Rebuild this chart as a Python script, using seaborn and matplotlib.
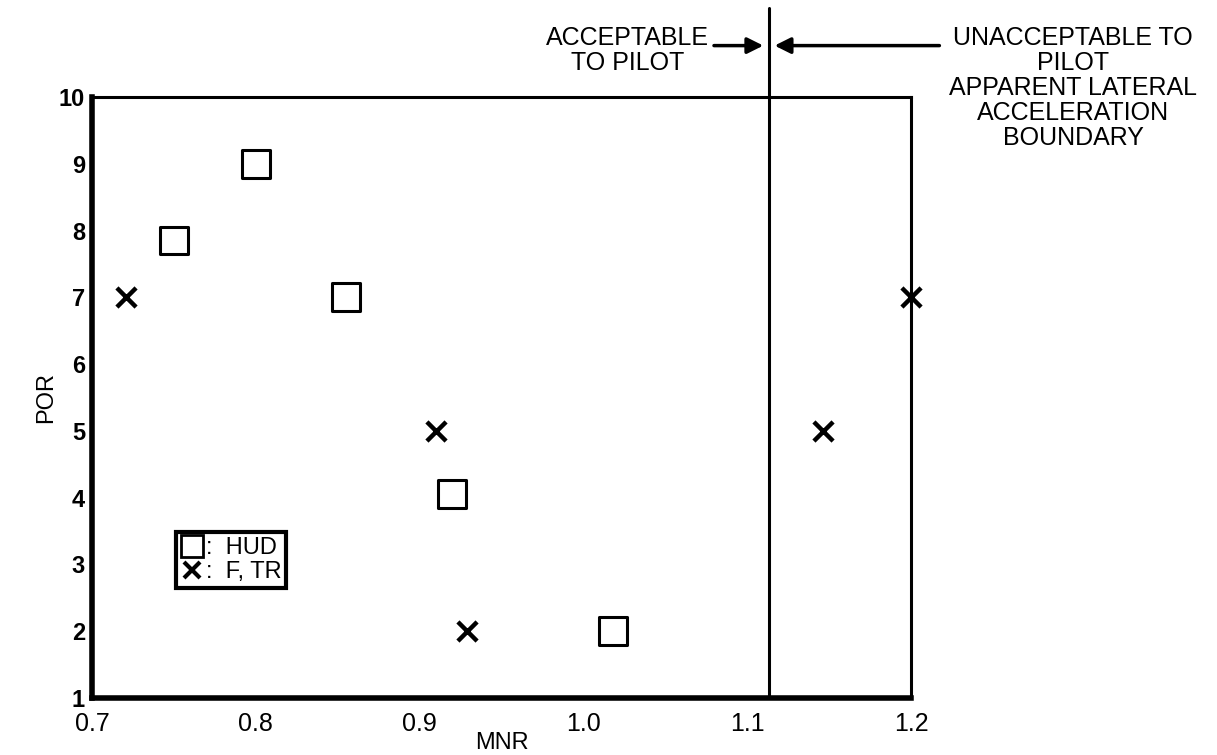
import pandas as pd
import matplotlib.pyplot as plt
from matplotlib.lines import Line2D
import seaborn as sns

# HUD points (squares)
hud_mnr = [0.750, 0.800, 0.855, 0.920, 1.018]
hud_por = [7.85, 9.0, 7.0, 4.05, 2.0]
# F, TR points (X)
ftr_mnr = [0.721, 0.910, 0.929, 1.146, 1.200]
ftr_por = [7.0, 5.0, 2.0, 5.0, 7.0]

boundary_mnr = 1.113
x_ticks = [0.7, 0.8, 0.9, 1.0, 1.1, 1.2]
y_ticks = [1, 2, 3, 4, 5, 6, 7, 8, 9, 10]

hud = pd.DataFrame({'MNR': hud_mnr, 'POR': hud_por})
ftr = pd.DataFrame({'MNR': ftr_mnr, 'POR': ftr_por})

sns.set_style('white')
plt.rcParams['font.family'] = ['Liberation Sans', 'DejaVu Sans']
plt.rcParams['text.color'] = 'black'
plt.rcParams['axes.labelcolor'] = 'black'

fig = plt.figure(figsize=(12.17, 7.55), dpi=100)
ax = fig.add_axes([0.0756, 0.0755, 0.673, 0.796])

sns.scatterplot(data=hud, x='MNR', y='POR', ax=ax, marker='s', s=400,
                facecolor='none', edgecolor='black', linewidth=2.2, clip_on=False)
sns.scatterplot(data=ftr, x='MNR', y='POR', ax=ax, marker='x', s=190,
                color='black', linewidth=3.2, clip_on=False)

ax.set_xlim(0.7, 1.2)
ax.set_ylim(1, 10)
ax.set_xticks(x_ticks)
ax.set_xticklabels(['0.7', '0.8', '0.9', '1.0', '1.1', '1.2'])
ax.set_yticks(y_ticks)
ax.tick_params(direction='in', length=12, width=2, colors='black')
ax.tick_params(axis='x', pad=10, labelsize=18)
ax.tick_params(axis='y', pad=5, labelsize=17)
for lab in ax.get_yticklabels():
    lab.set_fontweight('bold')

for side in ['top', 'right']:
    ax.spines[side].set_linewidth(2.2)
    ax.spines[side].set_color('black')
for side in ['left', 'bottom']:
    ax.spines[side].set_linewidth(4)
    ax.spines[side].set_color('black')

ax.set_xlabel('MNR', fontsize=17, labelpad=-3)
ax.set_ylabel('POR', fontsize=17, labelpad=1)

# boundary line extending above the frame
ax.axvline(boundary_mnr, ymin=0, ymax=1.148, color='black', linewidth=2.2, clip_on=False)

arrow_y = 10.77
ax.annotate('', xy=(boundary_mnr - 0.0015, arrow_y), xytext=(1.078, arrow_y),
            annotation_clip=False,
            arrowprops=dict(arrowstyle='-|>', color='black', lw=2.5, mutation_scale=24))
ax.annotate('', xy=(boundary_mnr + 0.002, arrow_y), xytext=(1.219, arrow_y),
            annotation_clip=False,
            arrowprops=dict(arrowstyle='-|>', color='black', lw=2.5, mutation_scale=24))

ax.text(1.027, 10.7, 'ACCEPTABLE\nTO PILOT', ha='center', va='center',
        fontsize=18, linespacing=1.05)
ax.text(1.299, 10.13, 'UNACCEPTABLE TO\nPILOT\nAPPARENT LATERAL\nACCELERATION\nBOUNDARY',
        ha='center', va='center', fontsize=18, linespacing=1.05)

handles = [Line2D([], [], marker='s', markersize=16, markerfacecolor='none',
                  markeredgecolor='black', markeredgewidth=2, linestyle='none'),
           Line2D([], [], marker='x', markersize=12, color='black',
                  markeredgewidth=3, linestyle='none')]
leg = ax.legend(handles, [':  HUD', ':  F, TR'], loc='lower left',
                bbox_to_anchor=(0.103, 0.183), fontsize=17, frameon=True,
                fancybox=False, handlelength=0.9, handletextpad=0.15,
                borderpad=0.2, labelspacing=0.1, borderaxespad=0,
                framealpha=1)
leg.get_frame().set_edgecolor('black')
leg.get_frame().set_linewidth(3)
for t in leg.get_texts():
    t.set_color('black')

fig.savefig('out.png', dpi=100)
